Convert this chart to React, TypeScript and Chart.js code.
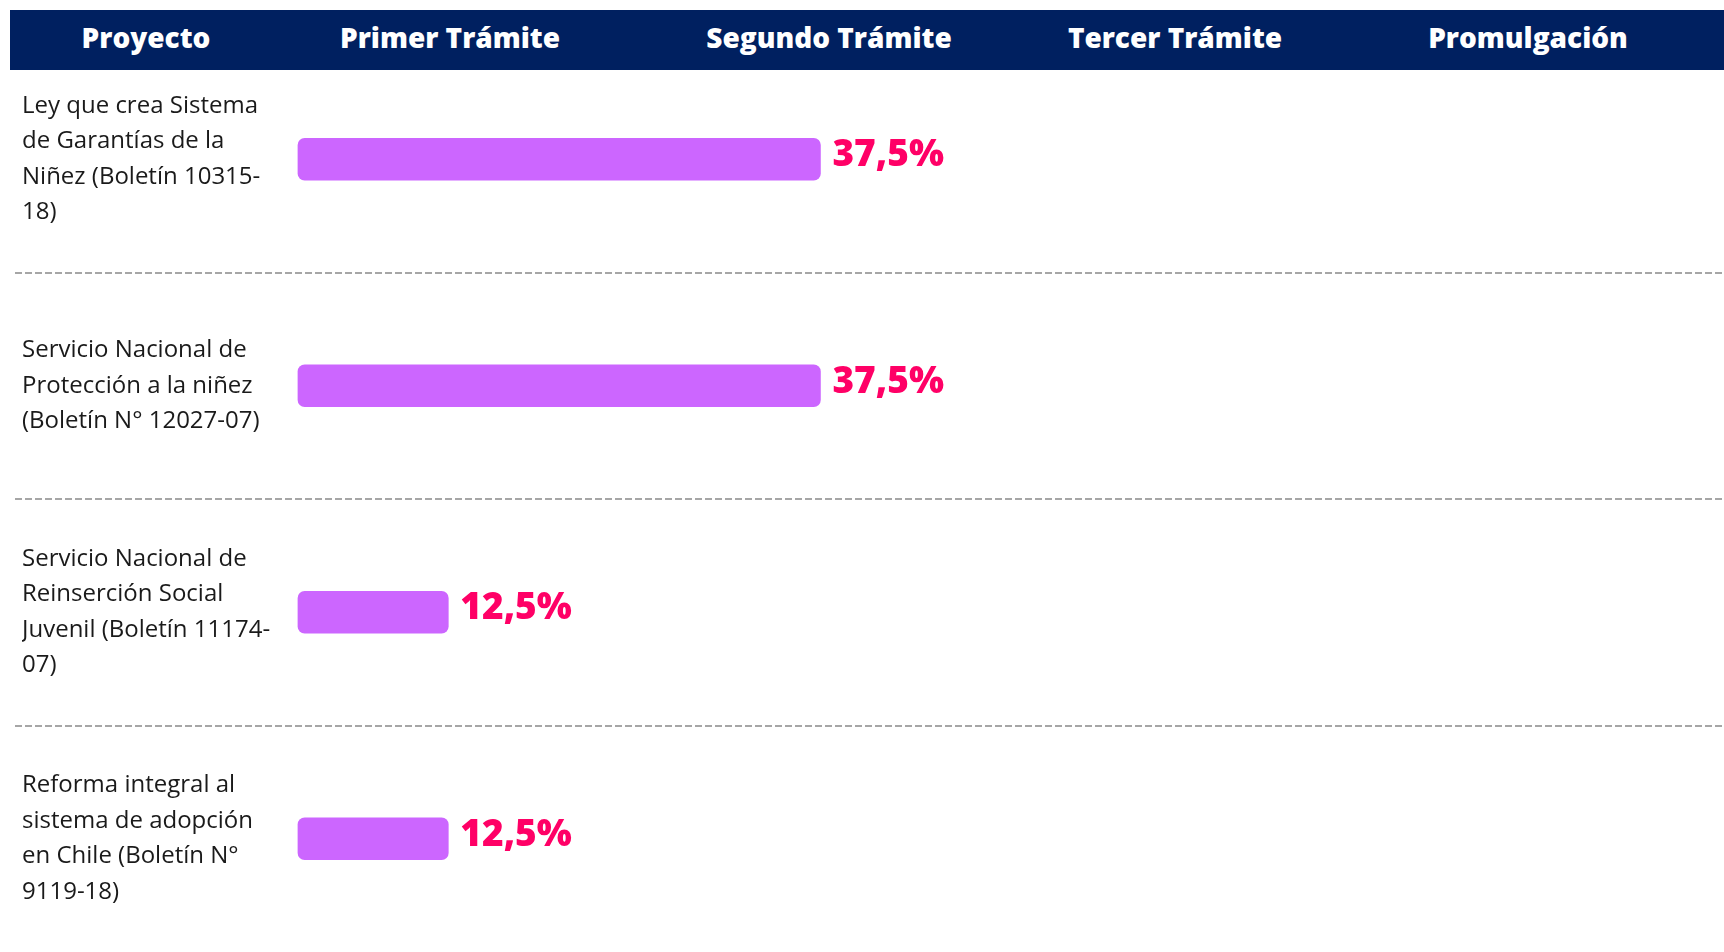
import React, { useEffect, useRef } from "react";
import { Chart, registerables } from "chart.js";
Chart.register(...registerables);

const headers = ["Proyecto", "Primer Trámite", "Segundo Trámite", "Tercer Trámite", "Promulgación"];
const headerCenters = [146, 450, 829, 1175, 1528];
const projects = [
  ["Ley que crea Sistema", "de Garantías de la", "Niñez (Boletín 10315-", "18)"],
  ["Servicio Nacional de", "Protección a la niñez", "(Boletín N° 12027-07)"],
  ["Servicio Nacional de", "Reinserción Social", "Juvenil (Boletín 11174-", "07)"],
  ["Reforma integral al", "sistema de adopción", "en Chile (Boletín N°", "9119-18)"],
];
const progress = [37.5, 37.5, 12.5, 12.5];
const progressLabels = ["37,5%", "37,5%", "12,5%", "12,5%"];

const W = 1724;
const H = 952;

const separatorPlugin = {
  id: "separators",
  beforeDatasetsDraw(chart: any) {
    const y = chart.scales.y;
    const ctx = chart.ctx;
    ctx.save();
    ctx.strokeStyle = "#A6A6A6";
    ctx.lineWidth = 2;
    ctx.setLineDash([7, 3]);
    for (let i = 0; i < projects.length - 1; i++) {
      const py = Math.round((y.getPixelForValue(i) + y.getPixelForValue(i + 1)) / 2);
      ctx.beginPath();
      ctx.moveTo(15, py);
      ctx.lineTo(chart.width, py);
      ctx.stroke();
    }
    ctx.restore();
  },
};

const valueLabelPlugin = {
  id: "valueLabels",
  afterDatasetsDraw(chart: any) {
    const ctx = chart.ctx;
    const meta = chart.getDatasetMeta(0);
    ctx.save();
    ctx.fillStyle = "#FF0066";
    ctx.font = "800 37px 'Open Sans'";
    ctx.textAlign = "left";
    ctx.textBaseline = "alphabetic";
    meta.data.forEach((bar: any, i: number) => {
      ctx.fillText(progressLabels[i], bar.x + 12, bar.y + 7);
    });
    ctx.restore();
  },
};

export default function App() {
  const ref = useRef<HTMLCanvasElement>(null);
  useEffect(() => {
    if (!ref.current) return;
    const chart = new Chart(ref.current, {
      type: "bar",
      data: {
        labels: projects,
        datasets: [
          {
            data: progress,
            base: 2.4,
            backgroundColor: "#CC66FF",
            barThickness: 42,
            borderRadius: 7,
            borderSkipped: false,
          },
        ],
      },
      options: {
        indexAxis: "y",
        responsive: false,
        animation: false,
        layout: { padding: { left: 22, top: 46, bottom: 0, right: 0 } },
        plugins: { legend: { display: false }, tooltip: { enabled: false } },
        scales: {
          x: { display: false, min: 2.0, max: 98.2 },
          y: {
            grid: { display: false },
            border: { display: false },
            ticks: {
              crossAlign: "far",
              padding: 0,
              color: "#1A1A1A",
              font: { family: "'Open Sans'", size: 24, lineHeight: 1.48 },
            },
            afterFit: (s: any) => {
              s.width = 270;
              s.paddingTop = 0;
              s.paddingBottom = 0;
            },
          },
        },
      } as any,
      plugins: [separatorPlugin, valueLabelPlugin],
    });
    return () => chart.destroy();
  }, []);

  return (
    <div style={{ position: "absolute", left: 0, top: 0, width: W, height: H, background: "#fff" }}>
      <canvas ref={ref} width={W} height={H} style={{ position: "absolute", left: 0, top: 0 }} />
      <div
        style={{
          position: "absolute",
          left: 10,
          top: 10,
          width: W - 10,
          height: 60,
          background: "#002060",
        }}
      >
        {headers.map((h, i) => (
          <span
            key={h}
            style={{
              position: "absolute",
              left: headerCenters[i] - 10,
              top: "calc(50% - 3px)",
              transform: "translate(-50%, -50%)",
              color: "#fff",
              font: "800 28px 'Open Sans'",
              whiteSpace: "nowrap",
            }}
          >
            {h}
          </span>
        ))}
      </div>
    </div>
  );
}
